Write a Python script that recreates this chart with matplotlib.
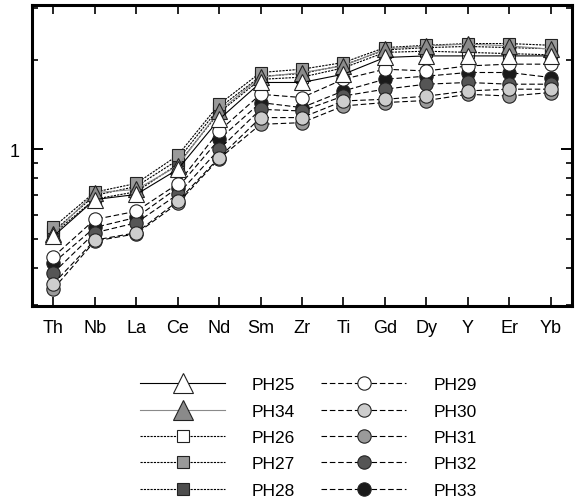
import numpy as np
import matplotlib.pyplot as plt
from matplotlib.ticker import FixedLocator, FixedFormatter, NullFormatter

plt.rcParams['font.family'] = ['Liberation Sans', 'DejaVu Sans']

elements = ['Th', 'Nb', 'La', 'Ce', 'Nd', 'Sm', 'Zr', 'Ti', 'Gd', 'Dy', 'Y', 'Er', 'Yb']

# normalised concentrations
ph25 = [0.51, 0.678, 0.705, 0.856, 1.262, 1.679, 1.679, 1.79, 2.038, 2.063, 2.063, 2.063, 2.063]
ph34 = [0.52, 0.715, 0.733, 0.88, 1.346, 1.749, 1.814, 1.909, 2.174, 2.23, 2.26, 2.23, 2.174]
ph26 = [0.52, 0.68, 0.72, 0.89, 1.33, 1.72, 1.75, 1.88, 2.12, 2.14, 2.12, 2.10, 2.08]
ph27 = [0.547, 0.718, 0.768, 0.954, 1.418, 1.814, 1.861, 1.96, 2.20, 2.24, 2.27, 2.27, 2.24]
ph28 = [0.53, 0.70, 0.75, 0.92, 1.38, 1.76, 1.80, 1.92, 2.16, 2.20, 2.22, 2.20, 2.18]
ph29 = [0.435, 0.581, 0.619, 0.765, 1.153, 1.532, 1.494, 1.722, 1.861, 1.836, 1.909, 1.935, 1.935]
ph30 = [0.353, 0.495, 0.524, 0.669, 0.938, 1.279, 1.279, 1.455, 1.474, 1.51, 1.573, 1.594, 1.594]
ph31 = [0.339, 0.491, 0.52, 0.658, 0.93, 1.214, 1.23, 1.40, 1.437, 1.46, 1.532, 1.512, 1.553]
ph32 = [0.384, 0.524, 0.566, 0.705, 1.0, 1.364, 1.346, 1.512, 1.594, 1.657, 1.679, 1.657, 1.657]
ph33 = [0.415, 0.546, 0.59, 0.743, 1.081, 1.437, 1.382, 1.573, 1.722, 1.763, 1.814, 1.814, 1.745]

x = np.arange(len(elements))

dotted = (0, (2, 1))
dashed = (0, (5, 2.5))

# label, data, marker, fill, line colour, line style, marker size, zorder
series = [
    ('PH25', ph25, '^', 'white', 'black', '-', 11.5, 10),
    ('PH34', ph34, '^', '#8a8a8a', '#8a8a8a', '-', 11.5, 9),
    ('PH26', ph26, 's', 'white', 'black', dotted, 9, 6),
    ('PH27', ph27, 's', '#9a9a9a', 'black', dotted, 9, 8),
    ('PH28', ph28, 's', '#4d4d4d', 'black', dotted, 9, 7),
    ('PH29', ph29, 'o', 'white', 'black', dashed, 9.6, 5),
    ('PH30', ph30, 'o', '#cdcdcd', 'black', dashed, 9.6, 4),
    ('PH31', ph31, 'o', '#9a9a9a', 'black', dashed, 9.6, 3),
    ('PH32', ph32, 'o', '#555555', 'black', dashed, 9.6, 2),
    ('PH33', ph33, 'o', '#1a1a1a', 'black', dashed, 9.6, 1),
]

fig = plt.figure(figsize=(5.8, 5.02), dpi=100)
ax = fig.add_axes([0.0552, 0.3884, 0.931, 0.5996])

handles = []
for name, vals, mk, fc, lc, ls, ms, z in series:
    ln, = ax.plot(x, vals, linestyle=ls, color=lc, lw=0.8, marker=mk, ms=ms,
                  mfc=fc, mec='#222222', mew=0.8, label=name, zorder=z)
    handles.append(ln)

ax.set_yscale('log')
ax.set_ylim(0.297, 3.06)
ax.set_xlim(-0.515, len(elements) - 1 + 0.515)

ax.yaxis.set_major_locator(FixedLocator([1]))
ax.yaxis.set_major_formatter(FixedFormatter(['1']))
ax.yaxis.set_minor_locator(FixedLocator([0.3, 0.4, 0.5, 0.6, 0.7, 0.8, 0.9, 2, 3]))
ax.yaxis.set_minor_formatter(NullFormatter())

ax.set_xticks(x)
ax.set_xticklabels(elements)

ax.tick_params(axis='x', which='major', direction='in', top=True, bottom=True,
               length=6.5, width=1.2, pad=9, labelsize=13)
ax.tick_params(axis='y', which='major', direction='in', left=True, right=True,
               length=8, width=1.4, pad=9, labelsize=13)
ax.tick_params(axis='y', which='minor', direction='in', left=True, right=True,
               length=4.3, width=1.2)
for sp in ax.spines.values():
    sp.set_linewidth(2.2)

leg = fig.legend(handles, [h.get_label() for h in handles], ncol=2,
                 loc='upper left', bbox_to_anchor=(0.2414, 0.247),
                 frameon=False, fontsize=12.5, handlelength=4.9,
                 handletextpad=1.55, columnspacing=1.5, labelspacing=0.65,
                 borderpad=0, borderaxespad=0)
for h in leg.legend_handles:
    m = h.get_marker()
    if m == '^':
        h.set_markersize(14.4)
    elif m == 's':
        h.set_markersize(8.5)
    else:
        h.set_markersize(9.6)

fig.savefig('out.png', dpi=100)
